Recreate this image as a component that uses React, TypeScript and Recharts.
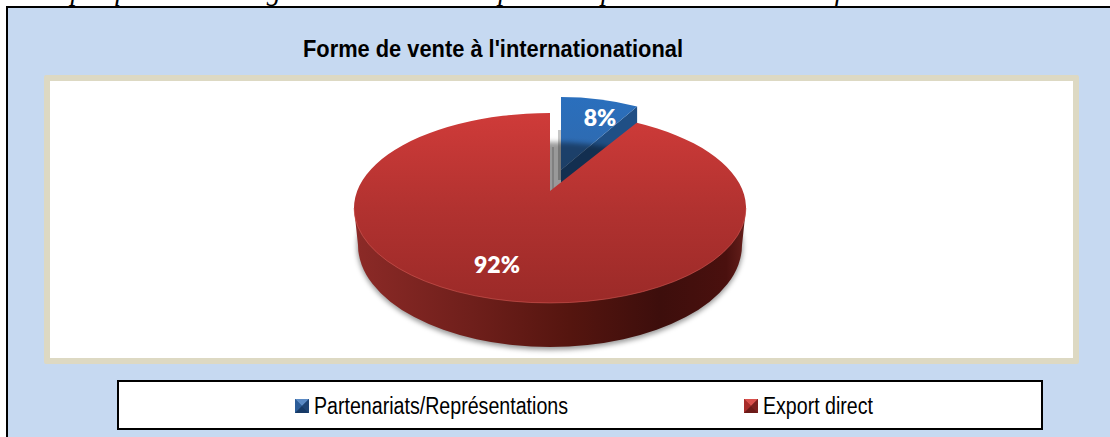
import React from "react";
import { PieChart, Pie, Cell, Legend } from "recharts";

const categories = ["Partenariats/Représentations", "Export direct"];
const values = [8, 92];
const seriesColors = ["#2f6db5", "#b83230"];
const legendTextWidths = [254, 110];
const legendIconX = [176, 625];
const captionText = "Graphique N° : Catégorisation des entreprises exportatrices selon la forme à l'international Sa";
const titleText = "Forme de vente à l'internationational";

const data = categories.map((name, i) => ({ name, value: values[i] }));

const W = 1110;
const H = 437;
const CX = 550;
const CY = 208;
const R = 196;
const RED_RY = 95;
const RED_APEX_DY = -17;
const BLUE = { dx: 11, dy: -18, rx: 172, ry: 93, apexDy: -20 };
const WARP = 3;

const phiOf = (angle: number) => {
  const theta = 90 - angle;
  return theta - WARP * Math.sin((2 * theta * Math.PI) / 180);
};
const pt = (cx: number, cy: number, rx: number, ry: number, phi: number) => {
  const a = (phi * Math.PI) / 180;
  return [cx + rx * Math.sin(a), cy - ry * Math.cos(a)];
};

function Slice(props: any) {
  const { startAngle, endAngle, percent, cx, cy, outerRadius } = props;
  const isBlue = percent < 0.5;
  const p0 = phiOf(startAngle);
  const p1 = phiOf(endAngle);
  const large = Math.abs(p1 - p0) > 180 ? 1 : 0;
  if (isBlue) {
    const ex = cx + BLUE.dx;
    const ey = cy + BLUE.dy;
    const a = pt(ex, ey, BLUE.rx, BLUE.ry, p0);
    const b = pt(ex, ey, BLUE.rx, BLUE.ry, p1);
    const ay = ey + BLUE.apexDy;
    return (
      <g>
        <defs>
          <linearGradient id="blueTop" x1="0" y1="0" x2="0" y2="1">
            <stop offset="0" stopColor="#2a6fbd" />
            <stop offset="1" stopColor="#3069ac" />
          </linearGradient>
          <filter id="softGrey" x="-100%" y="-10%" width="300%" height="120%">
            <feGaussianBlur stdDeviation="0.7" />
          </filter>
        </defs>
        <rect x={ex - 3} y={ey - 60} width={3} height={50} fill="#c6c6c6" filter="url(#softGrey)" />
        <rect x={cx + 2} y={ey - 43} width={2} height={42} fill="#d6d6d6" filter="url(#softGrey)" />
        <path d={`M${ex} ${ay} L${b[0]} ${b[1]} L${b[0]} ${b[1] + 20} L${ex} ${ay + 18} Z`} fill="#204f85" />
        <path
          d={`M${ex} ${ay} L${a[0]} ${a[1]} A${BLUE.rx} ${BLUE.ry} 0 ${large} 1 ${b[0]} ${b[1]} Z`}
          fill="url(#blueTop)"
        />
      </g>
    );
  }
  const rx = outerRadius;
  const ry = RED_RY;
  const a = pt(cx, cy, rx, ry, p0);
  const b = pt(cx, cy, rx, ry, p1);
  const wallCy = cy + 37;
  const wallRx = rx - 4;
  const wallRy = 102;
  return (
    <g>
      <defs>
        <linearGradient id="redTop" gradientUnits="userSpaceOnUse" x1="0" y1={cy - ry} x2="0" y2={cy + ry}>
          <stop offset="0" stopColor="#cf3b39" />
          <stop offset="0.5" stopColor="#b23230" />
          <stop offset="1" stopColor="#9b2a28" />
        </linearGradient>
        <linearGradient id="redWall" x1="0" y1="0" x2="1" y2="0">
          <stop offset="0" stopColor="#8c2a27" />
          <stop offset="0.3" stopColor="#6f1f1b" />
          <stop offset="0.55" stopColor="#55150f" />
          <stop offset="0.78" stopColor="#3d0e0c" />
          <stop offset="0.95" stopColor="#4a100e" />
          <stop offset="1" stopColor="#66201c" />
        </linearGradient>
        <filter id="pieShadow" x="-10%" y="-20%" width="120%" height="140%">
          <feGaussianBlur stdDeviation="2.5" />
        </filter>
      </defs>
      <ellipse cx={cx} cy={wallCy + 1} rx={wallRx + 1} ry={wallRy + 2} fill="rgba(0,0,0,0.4)" filter="url(#pieShadow)" />
      <path
        d={`M${cx - rx} ${cy} L${cx - wallRx} ${wallCy} A${wallRx} ${wallRy} 0 0 0 ${cx + wallRx} ${wallCy} L${cx + rx} ${cy} Z`}
        fill="url(#redWall)"
      />
      <path
        d={`M${cx} ${cy + RED_APEX_DY} L${a[0]} ${a[1]} A${rx} ${ry} 0 ${large} 1 ${b[0]} ${b[1]} Z`}
        fill="url(#redTop)"
      />
      <path
        d={`M${cx - rx} ${cy} A${rx} ${ry} 0 0 0 ${cx + rx} ${cy}`}
        fill="none"
        stroke="rgba(214,92,88,0.55)"
        strokeWidth={1}
      />
    </g>
  );
}

function SliceLabel(props: any) {
  const { midAngle, percent, cx, cy } = props;
  const isBlue = percent < 0.5;
  const a = (midAngle * Math.PI) / 180;
  const x = isBlue ? cx + BLUE.dx + 0.8 * R * Math.cos(a) : cx - 14 + 0.8 * R * Math.cos(a);
  const y = isBlue ? cy + BLUE.dy - 0.8 * BLUE.ry * Math.sin(a) : cy + RED_APEX_DY - 0.8 * RED_RY * Math.sin(a);
  return (
    <text
      x={x}
      y={y - 1}
      textAnchor="middle"
      dominantBaseline="central"
      fill="#ffffff"
      fontFamily="Lato, Carlito, sans-serif"
      fontWeight={800}
      fontSize={23}
    >
      {`${Math.round(percent * 100)}%`}
    </text>
  );
}

const iconShades = [
  ["#5b8ac4", "#2b5c98", "#1f4474", "#173a66", "#2b5688"],
  ["#d9504c", "#a82c2a", "#7c201e", "#6b1a18", "#8e2826"],
];

function LegendContent(props: any) {
  const payload = props.payload || [];
  return (
    <svg width={921} height={45} style={{ display: "block" }}>
      {categories.map((cat, i) => {
        const item = payload.find((p: any) => p.value === cat);
        const label = item ? item.value : cat;
        const x = legendIconX[i];
        const s = iconShades[i];
        return (
          <g key={cat}>
            <rect x={x} y={17} width={14} height={14} fill={s[4]} />
            <polygon points={`${x},17 ${x + 14},17 ${x + 7},24`} fill={s[0]} />
            <polygon points={`${x},17 ${x},31 ${x + 7},24`} fill={s[1]} />
            <polygon points={`${x + 14},17 ${x + 14},31 ${x + 7},24`} fill={s[2]} />
            <polygon points={`${x},31 ${x + 14},31 ${x + 7},24`} fill={s[3]} />
            <text
              x={x + 19}
              y={32}
              fontFamily="'Liberation Sans', Arial, sans-serif"
              fontSize={23}
              fill="#000000"
              textLength={legendTextWidths[i]}
              lengthAdjust="spacingAndGlyphs"
            >
              {label}
            </text>
          </g>
        );
      })}
    </svg>
  );
}

export default function App() {
  return (
    <div style={{ position: "fixed", left: 0, top: 0, width: W, height: H, overflow: "hidden", background: "#ffffff" }}>
      <svg width={W} height={8} style={{ position: "absolute", left: 0, top: 0 }}>
        <text
          x={24}
          y={0}
          fontFamily="'Liberation Serif', serif"
          fontStyle="italic"
          fontSize={28}
          fill="#000"
          textLength={1110}
          lengthAdjust="spacing"
        >
          {captionText}
        </text>
      </svg>
      <div
        style={{
          position: "absolute",
          left: 6,
          top: 6,
          width: 1200,
          height: 600,
          boxSizing: "border-box",
          border: "2px solid #000",
          background: "#c6d9f1",
        }}
      />
      <div
        style={{
          position: "absolute",
          left: 44,
          top: 75,
          width: 1035,
          height: 289,
          boxSizing: "border-box",
          border: "6px solid #ddd9c3",
          borderRadius: 2,
          background: "#ffffff",
        }}
      />
      <div
        style={{
          position: "absolute",
          left: 117,
          top: 380,
          width: 926,
          height: 50,
          boxSizing: "border-box",
          border: "2px solid #000",
          background: "#ffffff",
        }}
      />
      <svg width={W} height={H} style={{ position: "absolute", left: 0, top: 0 }}>
        <text
          x={303}
          y={57}
          fontFamily="'Liberation Sans', Arial, sans-serif"
          fontWeight={700}
          fontSize={24}
          fill="#000"
          textLength={380}
          lengthAdjust="spacingAndGlyphs"
        >
          {titleText}
        </text>
      </svg>
      <div style={{ position: "absolute", left: 0, top: 0 }}>
        <PieChart width={W} height={H} margin={{ top: 0, right: 0, bottom: 0, left: 0 }}>
          <Pie
            data={data}
            dataKey="value"
            nameKey="name"
            cx={CX}
            cy={CY}
            outerRadius={R}
            startAngle={90}
            endAngle={-270}
            stroke="none"
            isAnimationActive={false}
            labelLine={false}
            label={SliceLabel}
            shape={Slice}
          >
            {categories.map((c, i) => (
              <Cell key={c} fill={seriesColors[i]} />
            ))}
          </Pie>
          <Legend
            content={LegendContent}
            wrapperStyle={{ position: "absolute", left: 119, top: 382, width: 921, height: 45 }}
          />
        </PieChart>
      </div>
    </div>
  );
}
